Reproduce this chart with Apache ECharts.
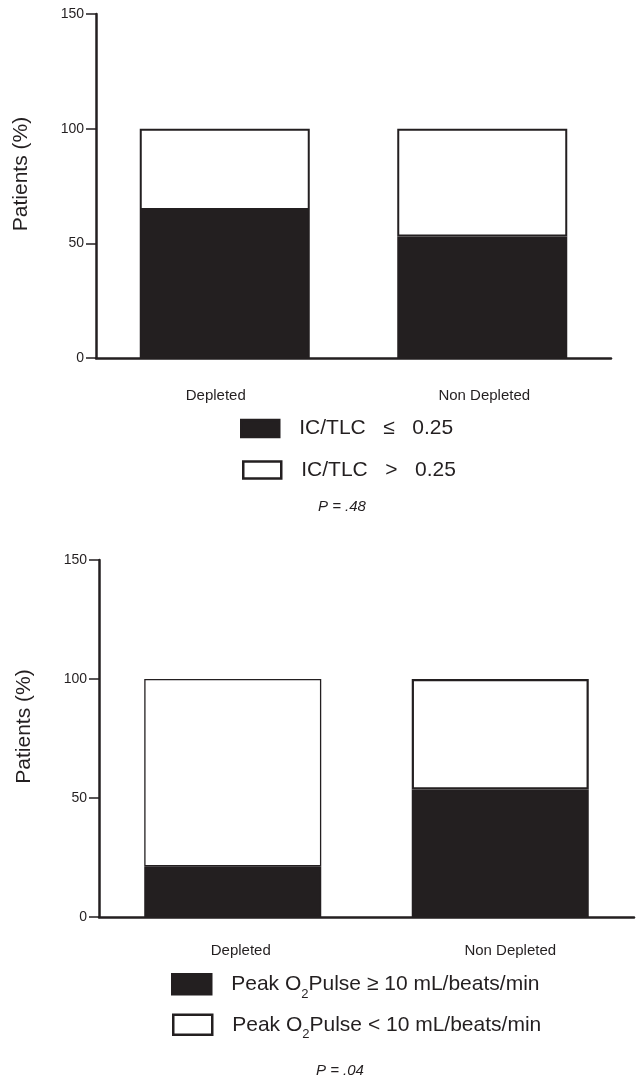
<!DOCTYPE html>
<html><head><meta charset="utf-8">
<script src="https://cdn.jsdelivr.net/npm/echarts@6/dist/echarts.min.js"></script>
<style>html,body{margin:0;padding:0;background:#fff}#c{width:640px;height:1079px}</style>
</head><body><div id="c"></div>
<script>
// ---- data ----
const categories = ['Depleted', 'Non Depleted'];
const yMin = 0, yMax = 150, yStep = 50;
const topBlack = [64.5, 53];
const topWhite = [35.5, 47];
const bottomBlack = [21.3, 53.6];
const bottomWhite = [78.7, 46.4];
const topNames = ['IC/TLC   \u2264   0.25', 'IC/TLC   >   0.25'];
const bottomNames = ['Peak O2Pulse \u2265 10 mL/beats/min', 'Peak O2Pulse < 10 mL/beats/min'];
const yName = 'Patients (%)';
const pTop = 'P = .48';
const pBottom = 'P = .04';

// ---- styles ----
const ink = '#231f20';
const ff = '"Liberation Sans", Arial, Helvetica, sans-serif';

function yAxisFor(gi) {
  return {
    type: 'value', gridIndex: gi, min: yMin, max: yMax, interval: yStep,
    name: yName, nameLocation: 'middle', nameRotate: 90, nameGap: 64,
    nameTextStyle: { fontSize: 21, color: ink, fontFamily: ff, padding: [0, 0, 0, 24] },
    axisLine: { show: true, lineStyle: { color: ink, width: 2.5 } },
    axisTick: { show: true, length: 10, lineStyle: { color: ink, width: 1.5 } },
    axisLabel: { fontSize: 14, color: ink, margin: 12, fontFamily: ff },
    splitLine: { show: false }
  };
}
function xAxisFor(gi, margin, shifts) {
  const rich = {};
  shifts.forEach((d, i) => {
    rich['l' + i] = { fontSize: 15, color: ink, fontFamily: ff,
      padding: d >= 0 ? [0, 0, 0, 2 * d] : [0, -2 * d, 0, 0] };
  });
  return {
    type: 'category', gridIndex: gi, data: categories,
    axisLine: { show: true, lineStyle: { color: ink, width: 2.5 } },
    axisTick: { show: false },
    axisLabel: { margin: margin, formatter: (v, i) => '{l' + i + '|' + v + '}', rich: rich },
    splitLine: { show: false }
  };
}
function barSeries(name, data, gi, fill, bw, borders) {
  return {
    type: 'bar', name: name, xAxisIndex: gi, yAxisIndex: gi, stack: 's' + gi,
    barWidth: bw, silent: true,
    data: data.map((v, i) => ({ value: v, itemStyle: { borderWidth: borders[i] } })),
    itemStyle: { color: fill, borderColor: ink, borderWidth: 2 }
  };
}
const subRich = {
  t: { fontSize: 21, color: ink, fontFamily: ff, lineHeight: 24 },
  p: { fontSize: 21, color: ink, fontFamily: ff, lineHeight: 24, padding: [0, 0, 0, 15] },
  s: { fontSize: 13, color: ink, fontFamily: ff, padding: [20, 0, 0, 0] }
};
function legendFor(name, left, top, w, h) {
  return {
    data: [name], left: left, top: top, padding: 0, itemWidth: w, itemHeight: h,
    icon: 'rect', selectedMode: false,
    itemStyle: { borderColor: ink, borderWidth: 2.5 },
    formatter: (n) => {
      const k = n.indexOf('O2');
      if (k < 0) return '{p|' + n + '}';
      return '{p|' + n.slice(0, k + 1) + '}{s|2}{t|' + n.slice(k + 2) + '}';
    },
    textStyle: { rich: subRich }
  };
}

const option = {
  animation: false,
  backgroundColor: '#fff',
  grid: [
    { left: 96, top: 14, width: 515, height: 344 },
    { left: 99, top: 560, width: 535, height: 357 }
  ],
  xAxis: [xAxisFor(0, 30, [-9, 2]), xAxisFor(1, 26, [8, 10])],
  yAxis: [yAxisFor(0), yAxisFor(1)],
  legend: [
    legendFor(topNames[0], 240, 418, 38, 17),
    legendFor(topNames[1], 242, 459.5, 38, 17),
    legendFor(bottomNames[0], 171, 973, 39, 20),
    legendFor(bottomNames[1], 172, 1013.5, 39, 20)
  ],
  title: [
    { text: pTop, left: 318, top: 499, padding: 0,
      textStyle: { fontSize: 15, fontStyle: 'italic', fontWeight: 'normal', color: ink, fontFamily: ff } },
    { text: pBottom, left: 316, top: 1063, padding: 0,
      textStyle: { fontSize: 15, fontStyle: 'italic', fontWeight: 'normal', color: ink, fontFamily: ff } }
  ],
  series: [
    barSeries(topNames[0], topBlack, 0, ink, 170, [2, 2]),
    barSeries(topNames[1], topWhite, 0, '#ffffff', 170, [2, 2]),
    barSeries(bottomNames[0], bottomBlack, 1, ink, 177, [1.3, 2]),
    barSeries(bottomNames[1], bottomWhite, 1, '#ffffff', 177, [1.3, 2.2])
  ]
};
const chart = echarts.init(document.getElementById('c'), null, { renderer: 'canvas' });
chart.setOption(option);
</script>
</body></html>
